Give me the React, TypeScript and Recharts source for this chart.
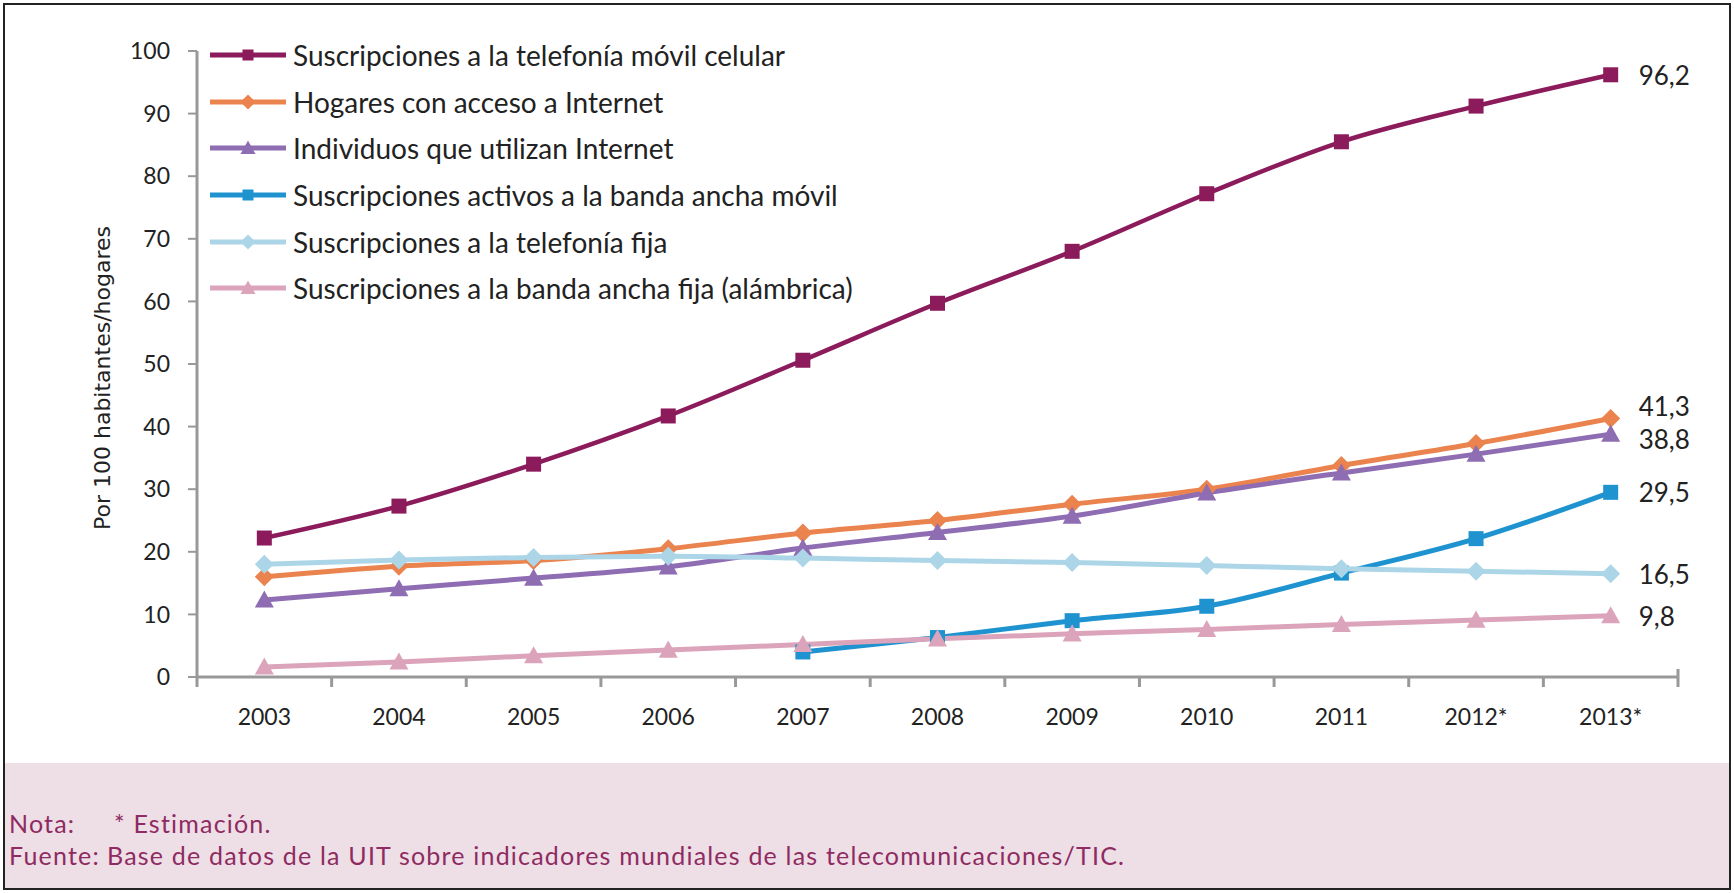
import { LineChart, Line, XAxis, YAxis, Legend, LabelList } from "recharts";

const years = ["2003", "2004", "2005", "2006", "2007", "2008", "2009", "2010", "2011", "2012*", "2013*"];

const movilCelular = [22.2, 27.3, 34.0, 41.7, 50.6, 59.7, 68.0, 77.2, 85.5, 91.2, 96.2];
const hogaresInternet = [16.0, 17.7, 18.6, 20.5, 23.0, 25.0, 27.6, 30.0, 33.8, 37.3, 41.3];
const individuosInternet = [12.3, 14.1, 15.8, 17.6, 20.6, 23.1, 25.7, 29.4, 32.6, 35.6, 38.8];
const bandaAnchaMovil = [null, null, null, null, 4.0, 6.3, 9.0, 11.3, 16.6, 22.1, 29.5];
const telefoniaFija = [18.0, 18.7, 19.1, 19.3, 19.0, 18.6, 18.3, 17.8, 17.3, 16.9, 16.5];
const bandaAnchaFija = [1.6, 2.4, 3.4, 4.3, 5.2, 6.1, 6.9, 7.6, 8.4, 9.1, 9.8];

const yTicks = [0, 10, 20, 30, 40, 50, 60, 70, 80, 90, 100];

type Shape = "square" | "diamond" | "triangle";

const SERIES: { key: string; name: string; color: string; shape: Shape; values: (number | null)[]; labelDy: number }[] = [
  { key: "movil", name: "Suscripciones a la telefonía móvil celular", color: "#8c1b5b", shape: "square", values: movilCelular, labelDy: 0 },
  { key: "hogares", name: "Hogares con acceso a Internet", color: "#ea834e", shape: "diamond", values: hogaresInternet, labelDy: -12 },
  { key: "individuos", name: "Individuos que utilizan Internet", color: "#8f6db3", shape: "triangle", values: individuosInternet, labelDy: 5 },
  { key: "bamovil", name: "Suscripciones activos a la banda ancha móvil", color: "#1f93d0", shape: "square", values: bandaAnchaMovil, labelDy: 0 },
  { key: "fija", name: "Suscripciones a la telefonía fija", color: "#acd6e8", shape: "diamond", values: telefoniaFija, labelDy: 0 },
  { key: "bafija", name: "Suscripciones a la banda ancha fija (alámbrica)", color: "#dba4ba", shape: "triangle", values: bandaAnchaFija, labelDy: 0 },
];

const data = years.map((year, i) => {
  const row: Record<string, unknown> = { year };
  for (const s of SERIES) row[s.key] = s.values[i];
  return row;
});

const FONT = "Lato, 'Open Sans', sans-serif";

function Marker({ cx, cy, shape, color, size = 15 }: { cx: number; cy: number; shape: Shape; color: string; size?: number }) {
  const h = size / 2;
  if (shape === "square") {
    return <rect x={cx - h} y={cy - h} width={size} height={size} fill={color} />;
  }
  if (shape === "diamond") {
    const d = h + 2;
    return <polygon points={`${cx},${cy - d} ${cx + d},${cy} ${cx},${cy + d} ${cx - d},${cy}`} fill={color} />;
  }
  const t = h + 2;
  return <polygon points={`${cx},${cy - t} ${cx + t},${cy + t * 0.8} ${cx - t},${cy + t * 0.8}`} fill={color} />;
}

function YearTick(props: any) {
  const { x, y, payload, index } = props;
  const half = payload?.offset || 67;
  const last = index === years.length - 1;
  return (
    <g>
      <line x1={x - half} x2={x - half} y1={y} y2={y + 10} stroke="#999" strokeWidth={3} />
      {last && <line x1={x + half} x2={x + half} y1={y - 8} y2={y + 10} stroke="#999" strokeWidth={3} />}
      <text x={x} y={y + 48} textAnchor="middle" fill="#222" fontSize={23} fontFamily={FONT}>
        {payload.value}
      </text>
    </g>
  );
}

function LegendBox() {
  return (
    <div style={{ fontFamily: FONT, fontSize: 28, color: "#222" }}>
      {SERIES.map((s) => (
        <div key={s.key} style={{ display: "flex", alignItems: "center", height: 46.6 }}>
          <svg width={76} height={20} style={{ flex: "none" }}>
            <line x1={0} x2={76} y1={10} y2={10} stroke={s.color} strokeWidth={5} />
            <Marker cx={38} cy={10} shape={s.shape} color={s.color} size={11} />
          </svg>
          <span style={{ marginLeft: 7, whiteSpace: "nowrap" }}>{s.name}</span>
        </div>
      ))}
    </div>
  );
}

export default function App() {
  return (
    <div style={{ position: "absolute", left: 0, top: 0, width: 1734, height: 893, background: "#fff" }}>
      <div
        style={{
          position: "absolute",
          left: 4,
          top: 763,
          width: 1726,
          height: 126,
          background: "#eedee6",
        }}
      />
      <div
        style={{
          position: "absolute",
          left: 9,
          top: 807,
          fontFamily: FONT,
          fontSize: 25,
          letterSpacing: 1.2,
          color: "#8e2b62",
          lineHeight: "32px",
          whiteSpace: "nowrap",
        }}
      >
        <div>
          <span style={{ display: "inline-block", width: 105 }}>Nota:</span>* Estimación.
        </div>
        <div>
          <span style={{ display: "inline-block", width: 98 }}>Fuente:</span>Base de datos de la UIT sobre indicadores
          mundiales de las telecomunicaciones/TIC.
        </div>
      </div>
      <div style={{ position: "absolute", left: 0, top: 0 }}>
        <LineChart width={1734} height={893} data={data} margin={{ top: 51, right: 56, bottom: 156, left: 117 }}>
          <XAxis
            dataKey="year"
            scale="band"
            tickLine={false}
            tickSize={0}
            tickMargin={0}
            height={60}
            stroke="#999"
            strokeWidth={3}
            interval={0}
            tick={<YearTick />}
          />
          <YAxis
            domain={[0, 100]}
            ticks={yTicks}
            width={80}
            stroke="#999"
            strokeWidth={3}
            tickSize={9}
            tickMargin={18}
            tickLine={{ stroke: "#999", strokeWidth: 2 }}
            tick={{ fill: "#222", fontSize: 23, fontFamily: FONT }}
            label={{
              content: () => (
                <text
                  x={102}
                  y={378}
                  transform="rotate(-90 102 378)"
                  textAnchor="middle"
                  dominantBaseline="central"
                  fill="#222"
                  fontSize={22}
                  fontFamily="'DejaVu Sans', sans-serif"
                >
                  Por 100 habitantes/hogares
                </text>
              ),
            }}
          />
          <Legend
            layout="vertical"
            align="center"
            verticalAlign="middle"
            wrapperStyle={{ position: "absolute", left: 210, top: 32, width: 800, height: 290 }}
            content={() => <LegendBox />}
          />
          {SERIES.map((s) => (
            <Line
              key={s.key}
              dataKey={s.key}
              name={s.name}
              type="monotone"
              stroke={s.color}
              strokeWidth={s.key === "movil" ? 4.5 : 5}
              connectNulls={false}
              isAnimationActive={false}
              dot={(p: any) =>
                p.value == null || p.cx == null ? (
                  <g key={`${s.key}-${p.index}`} />
                ) : (
                  <Marker key={`${s.key}-${p.index}`} cx={p.cx} cy={p.cy} shape={s.shape} color={s.color} />
                )
              }
              activeDot={false}
            >
              <LabelList
                dataKey={s.key}
                content={(p: any) =>
                  p.index === years.length - 1 ? (
                    <text
                      x={p.x + 28}
                      y={p.y + s.labelDy}
                      dominantBaseline="central"
                      fill="#222"
                      fontSize={26}
                      fontFamily={FONT}
                    >
                      {String(p.value).replace(".", ",")}
                    </text>
                  ) : null
                }
              />
            </Line>
          ))}
        </LineChart>
      </div>
      <div
        style={{
          position: "absolute",
          left: 3,
          top: 3,
          width: 1728,
          height: 887,
          border: "2px solid #222",
          boxSizing: "border-box",
          pointerEvents: "none",
        }}
      />
    </div>
  );
}
